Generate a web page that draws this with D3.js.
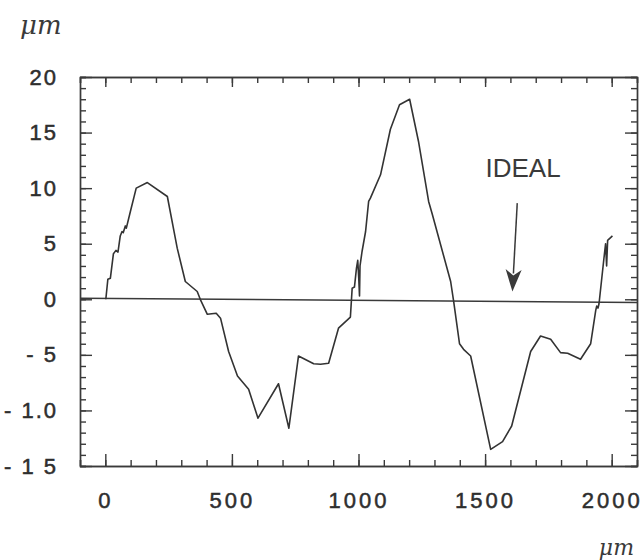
<!DOCTYPE html>
<html>
<head>
<meta charset="utf-8">
<script src="https://cdn.jsdelivr.net/npm/d3@7"></script>
<style>
  body { margin: 0; background: #fff; }
  .axis path, .axis line { stroke: #3a3a3a; stroke-width: 1.4; }
  .axis text { font-family: "Liberation Sans", Arial, sans-serif; fill: #2e2e2e; stroke: #2e2e2e; stroke-width: 0.5; }
</style>
</head>
<body>
<div class="chart"></div>
<script>
// Profile deviation vs position chart

// Data
var posX = [2, 10, 20, 32, 42, 50, 59, 66, 71, 79, 83, 99, 122, 166, 245, 284, 316, 363, 375,
  403, 438, 455, 487, 522, 566, 603, 684, 725, 763, 823, 850, 882, 921, 968, 975, 984, 992,
  997, 1001, 1004, 1006, 1014, 1028, 1040, 1047, 1087, 1126, 1162, 1202, 1237, 1277, 1292,
  1364, 1376, 1399, 1415, 1443, 1522, 1569, 1605, 1680, 1719, 1759, 1798, 1826, 1877, 1917,
  1937, 1941, 1946, 1950, 1969, 1976, 1980, 1984, 2003];
var devY = [0, 1.8, 1.9, 4.1, 4.4, 4.25, 5.7, 6.1, 6.0, 6.6, 6.4, 7.9, 10.0, 10.5, 9.25, 4.6, 1.6, 0.7, 0,
  -1.35, -1.25, -1.7, -4.7, -6.9, -8.1, -10.7, -7.6, -11.6, -5.1, -5.8, -5.85, -5.75, -2.6, -1.6, 1.0, 1.1, 2.8,
  3.5, 1.9, 0.3, 3.0, 4.3, 6.1, 8.8, 9.1, 11.2, 15.3, 17.5, 18.0, 14.2, 8.8, 7.6,
  1.6, -0.2, -4.0, -4.5, -5.1, -13.5, -12.8, -11.4, -4.7, -3.3, -3.6, -4.8, -4.85, -5.4, -4.0,
  -1.0, -0.6, -0.8, -0.4, 3.6, 5.0, 3.0, 5.3, 5.7];

// Ideal reference line (ends)
var idealX = [-100, 2100];
var idealY = [0.1, -0.3];

// Tick values and labels
var xTicks = [0, 500, 1000, 1500, 2000];
var xTickLabels = ["0", "500", "1000", "1500", "2000"];
var yTicks = [-15, -10, -5, 0, 5, 10, 15, 20];
var yTickLabels = ["- 1 5", "- 1.0", "- 5", "0", "5", "10", "15", "20"];
var xMinor = d3.range(-100, 2101, 100);
var yMinor = d3.range(-15, 21, 1);

// Annotation (arrow start, arrow tip, label position)
var arrowFrom = [1627, 8.65];
var arrowTo = [1608, 0.7];
var idealLabel = [1650, 11.0];

var svgWidth = 643;
var svgHeight = 560;

var margin = { top: 77, right: 6, bottom: 94, left: 80 };
var width = svgWidth - margin.left - margin.right;
var height = svgHeight - margin.top - margin.bottom;

var svg = d3.select(".chart")
  .append("svg")
  .attr("width", svgWidth)
  .attr("height", svgHeight);

var chartGroup = svg.append("g")
  .attr("transform", `translate(${margin.left}, ${margin.top})`);

// Scales
var xScale = d3.scaleLinear().domain([-100, 2100]).range([0, width]);
var yScale = d3.scaleLinear().domain([-15, 20]).range([height, 0]);

// Minor ticks on all four sides, pointing inward
chartGroup.append("g").attr("class", "axis")
  .attr("transform", `translate(0, ${height})`)
  .call(d3.axisBottom(xScale).tickValues(xMinor).tickSize(-6).tickFormat(""));
chartGroup.append("g").attr("class", "axis")
  .call(d3.axisTop(xScale).tickValues(xMinor).tickSize(-6).tickFormat(""));
chartGroup.append("g").attr("class", "axis")
  .call(d3.axisLeft(yScale).tickValues(yMinor).tickSize(-6).tickFormat(""));
chartGroup.append("g").attr("class", "axis")
  .attr("transform", `translate(${width}, 0)`)
  .call(d3.axisRight(yScale).tickValues(yMinor).tickSize(-6).tickFormat(""));

// Major ticks with labels
chartGroup.append("g").attr("class", "axis")
  .attr("transform", `translate(0, ${height})`)
  .call(d3.axisBottom(xScale).tickValues(xTicks).tickSizeInner(-12).tickSizeOuter(0).tickPadding(26)
    .tickFormat((d, i) => xTickLabels[i]))
  .selectAll("text")
  .attr("font-size", 22)
  .attr("letter-spacing", 3);

chartGroup.append("g").attr("class", "axis")
  .call(d3.axisTop(xScale).tickValues(xTicks).tickSizeInner(-10).tickSizeOuter(0).tickFormat(""));

chartGroup.append("g").attr("class", "axis")
  .call(d3.axisLeft(yScale).tickValues(yTicks).tickSizeInner(-12).tickSizeOuter(0).tickPadding(22)
    .tickFormat((d, i) => yTickLabels[i]))
  .selectAll("text")
  .attr("font-size", 22)
  .attr("letter-spacing", 2);

chartGroup.append("g").attr("class", "axis")
  .attr("transform", `translate(${width}, 0)`)
  .call(d3.axisRight(yScale).tickValues(yTicks).tickSizeInner(-12).tickSizeOuter(0).tickFormat(""));

// Ideal line
var idealData = idealX.map((x, i) => [x, idealY[i]]);
chartGroup.append("path")
  .datum(idealData)
  .attr("fill", "none")
  .attr("stroke", "#3a3a3a")
  .attr("stroke-width", 1.5)
  .attr("d", d3.line().x(d => xScale(d[0])).y(d => yScale(d[1])));

// Measured profile
var profile = posX.map((x, i) => [x, devY[i]]);
chartGroup.append("path")
  .datum(profile)
  .attr("fill", "none")
  .attr("stroke", "#333")
  .attr("stroke-width", 1.6)
  .attr("stroke-linejoin", "round")
  .attr("d", d3.line().x(d => xScale(d[0])).y(d => yScale(d[1])));

// Arrow to ideal line
var ax0 = xScale(arrowFrom[0]), ay0 = yScale(arrowFrom[1]);
var ax1 = xScale(arrowTo[0]), ay1 = yScale(arrowTo[1]);
var ang = Math.atan2(ay1 - ay0, ax1 - ax0);
var headLen = 22, headHalf = 8;
var bx = ax1 - headLen * Math.cos(ang), by = ay1 - headLen * Math.sin(ang);
var nx = -Math.sin(ang), ny = Math.cos(ang);

chartGroup.append("line")
  .attr("x1", ax0).attr("y1", ay0)
  .attr("x2", bx + 4 * Math.cos(ang)).attr("y2", by + 4 * Math.sin(ang))
  .attr("stroke", "#3a3a3a")
  .attr("stroke-width", 1.5);

chartGroup.append("path")
  .attr("d", `M${ax1},${ay1} L${bx + nx * headHalf},${by + ny * headHalf} L${bx + 6 * Math.cos(ang)},${by + 6 * Math.sin(ang)} L${bx - nx * headHalf},${by - ny * headHalf} Z`)
  .attr("fill", "#3a3a3a");

chartGroup.append("text")
  .attr("x", xScale(idealLabel[0]))
  .attr("y", yScale(idealLabel[1]))
  .attr("text-anchor", "middle")
  .attr("font-family", "Liberation Sans, Arial, sans-serif")
  .attr("font-size", 26)
  .attr("fill", "#3a3a3a")
  .text("IDEAL");

// Unit labels
svg.append("text")
  .attr("x", 20)
  .attr("y", 34)
  .attr("font-family", "DejaVu Serif, serif")
  .attr("font-style", "italic")
  .attr("font-size", 26)
  .attr("fill", "#3a3a3a")
  .text("μm");

svg.append("text")
  .attr("x", 634)
  .attr("y", 555)
  .attr("text-anchor", "end")
  .attr("font-family", "DejaVu Serif, serif")
  .attr("font-style", "italic")
  .attr("font-size", 22)
  .attr("fill", "#3a3a3a")
  .text("μm");
</script>
</body>
</html>
